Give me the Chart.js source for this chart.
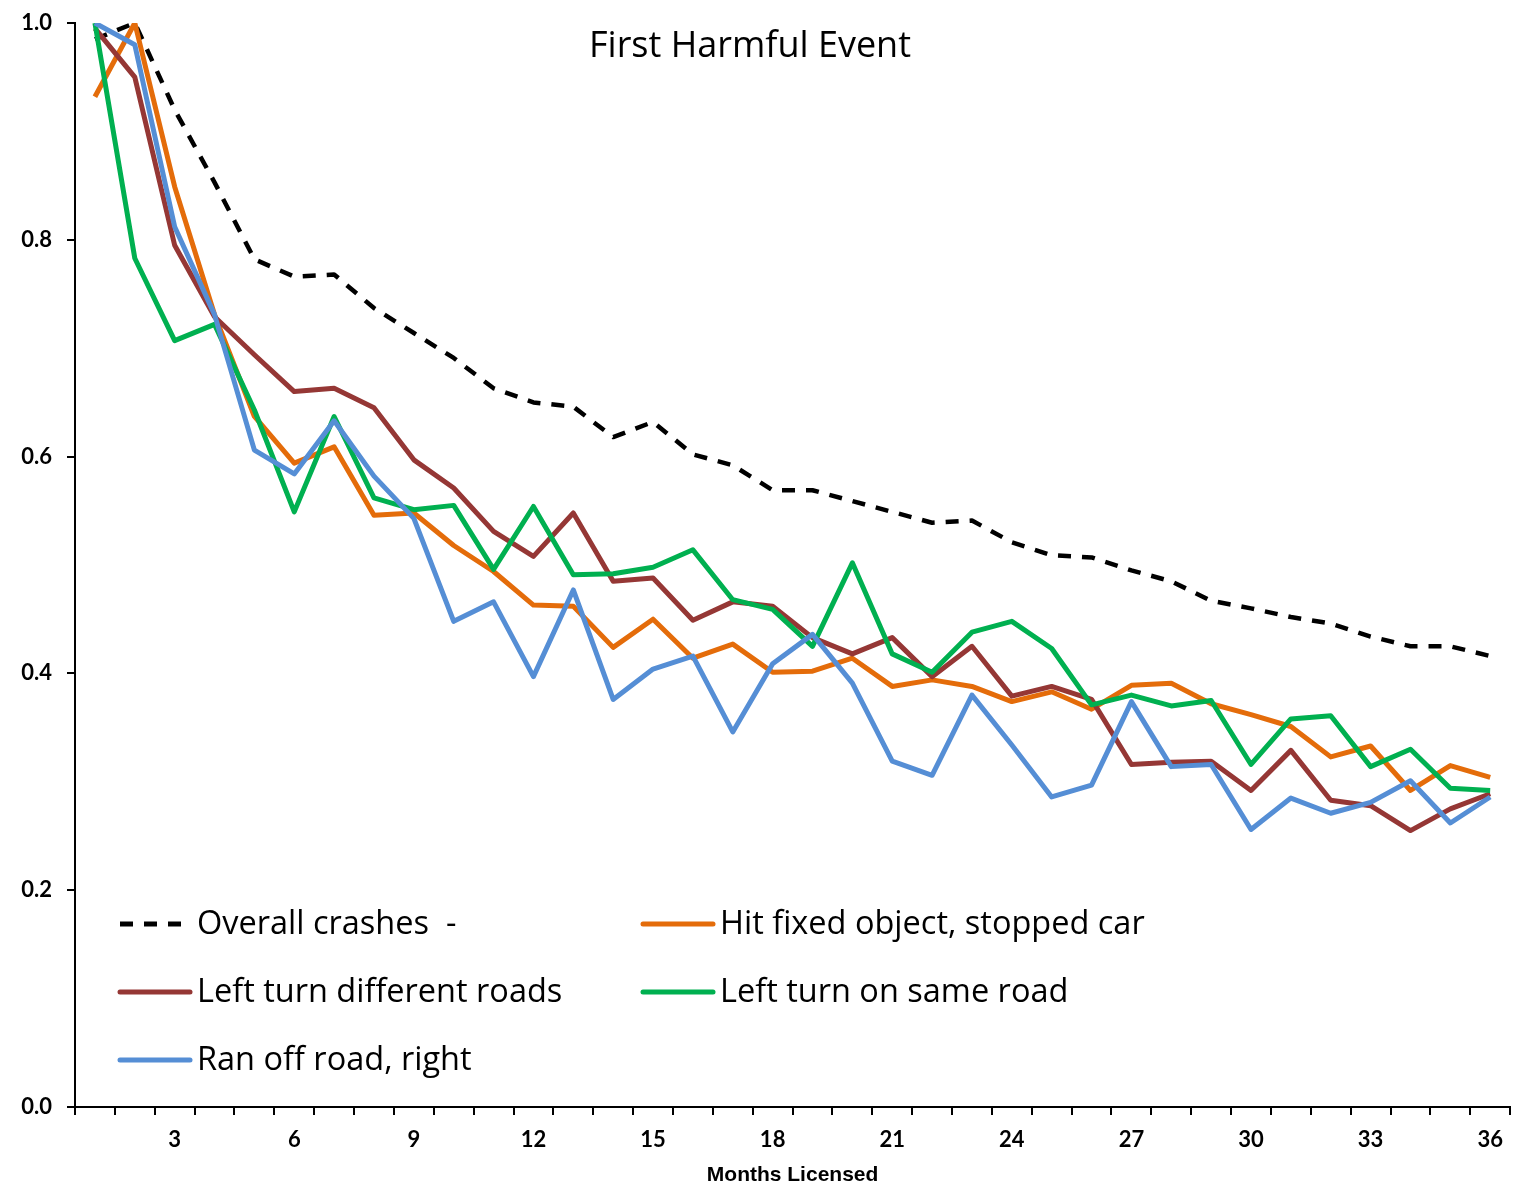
<!DOCTYPE html>
<html>
<head>
<meta charset="utf-8">
<title>First Harmful Event</title>
<script src="https://cdn.jsdelivr.net/npm/chart.js@4.4.1/dist/chart.umd.min.js"></script>
<style>
  html, body { margin: 0; padding: 0; background: #fff; }
  #wrap { width: 1515px; height: 1186px; position: relative; }
</style>
</head>
<body>
<div id="wrap"><canvas id="grafico"></canvas></div>
<script>
// Months 1..36 on the x axis, only every third one is labelled
const months = [1,2,3,4,5,6,7,8,9,10,11,12,13,14,15,16,17,18,19,20,21,22,23,24,25,26,27,28,29,30,31,32,33,34,35,36];
const monthTicks = [3,6,9,12,15,18,21,24,27,30,33,36];
const yTicks = [0, 0.2, 0.4, 0.6, 0.8, 1.0];

const overall = [0.985,1.0,0.92,0.853,0.782,0.766,0.768,0.737,0.714,0.691,0.663,0.650,0.646,0.618,0.632,0.602,0.592,0.569,0.569,0.559,0.549,0.539,0.541,0.521,0.509,0.507,0.495,0.485,0.467,0.460,0.452,0.446,0.434,0.425,0.425,0.416];
const hitFixed = [0.932,1.0,0.849,0.731,0.637,0.594,0.609,0.546,0.548,0.518,0.494,0.463,0.462,0.424,0.450,0.414,0.427,0.401,0.402,0.414,0.388,0.394,0.388,0.374,0.383,0.367,0.389,0.391,0.372,0.362,0.351,0.323,0.333,0.292,0.315,0.304];
const leftDiff = [0.995,0.95,0.795,0.729,0.694,0.660,0.663,0.645,0.597,0.571,0.531,0.508,0.548,0.485,0.488,0.449,0.466,0.462,0.433,0.418,0.433,0.397,0.425,0.379,0.388,0.376,0.316,0.318,0.319,0.292,0.329,0.283,0.278,0.255,0.275,0.289];
const leftSame = [1.0,0.783,0.707,0.722,0.643,0.549,0.637,0.562,0.551,0.555,0.496,0.554,0.491,0.492,0.498,0.514,0.468,0.459,0.425,0.502,0.418,0.401,0.438,0.448,0.423,0.371,0.380,0.370,0.375,0.316,0.358,0.361,0.314,0.330,0.294,0.292];
const ranOff = [1.0,0.98,0.812,0.731,0.606,0.584,0.633,0.582,0.543,0.448,0.466,0.397,0.477,0.376,0.404,0.416,0.346,0.409,0.436,0.391,0.319,0.306,0.380,0.334,0.286,0.297,0.374,0.314,0.316,0.256,0.285,0.271,0.281,0.301,0.262,0.286];

const tickFont = { family: 'Lato', weight: 'bold', size: 22 };

// Title and legend sit inside the plot area, so they are drawn by hand
const insidePlugin = {
  id: 'inside',
  afterDraw(chart) {
    const ctx = chart.ctx;
    const area = chart.chartArea;
    ctx.save();
    ctx.fillStyle = '#000';
    ctx.textBaseline = 'middle';
    ctx.textAlign = 'center';
    ctx.font = '36px "Open Sans"';
    ctx.fillText('First Harmful Event', area.left + 675, area.top + 24);

    const cols = [area.left + 45, area.left + 568];
    const rows = [area.bottom - 183, area.bottom - 115, area.bottom - 47];
    ctx.font = '32.5px "Open Sans"';
    ctx.textAlign = 'left';
    chart.data.datasets.forEach((ds, i) => {
      const x = cols[i % 2];
      const y = rows[Math.floor(i / 2)];
      ctx.beginPath();
      ctx.strokeStyle = ds.borderColor;
      ctx.lineWidth = 5;
      ctx.lineCap = ds.borderDash ? 'butt' : 'round';
      ctx.setLineDash(ds.borderDash || []);
      ctx.moveTo(x, y);
      ctx.lineTo(x + 70, y);
      ctx.stroke();
      ctx.setLineDash([]);
      ctx.fillStyle = '#000';
      ctx.fillText(ds.label, x + 77, y + 1);
    });
    ctx.restore();
  }
};

const data = {
  labels: months,
  datasets: [
    { label: 'Overall crashes  -', data: overall, borderColor: '#000000', borderDash: [13, 11], borderWidth: 4.5, order: 5 },
    { label: 'Hit fixed object, stopped car', data: hitFixed, borderColor: '#E46C0A', order: 4 },
    { label: 'Left turn different roads', data: leftDiff, borderColor: '#953735', order: 3 },
    { label: 'Left turn on same road', data: leftSame, borderColor: '#00B050', order: 2 },
    { label: 'Ran off road, right', data: ranOff, borderColor: '#558ED5', order: 1 }
  ]
};

const config = {
  type: 'line',
  data: data,
  options: {
    responsive: true,
    maintainAspectRatio: false,
    animation: false,
    layout: { padding: { top: 23, right: 3, left: 0, bottom: 0 } },
    elements: {
      line: { borderWidth: 5, tension: 0, borderJoinStyle: 'round' },
      point: { radius: 0 }
    },
    plugins: {
      legend: { display: false },
      title: { display: false },
      tooltip: { enabled: false }
    },
    scales: {
      x: {
        type: 'category',
        offset: true,
        grid: { offset: true, drawOnChartArea: false, tickLength: 8, color: '#000', lineWidth: 2 },
        border: { color: '#000', width: 2 },
        ticks: {
          autoSkip: false,
          maxRotation: 0,
          padding: 12,
          color: '#000',
          font: tickFont,
          callback: function(val, i) {
            const m = months[i];
            return monthTicks.includes(m) ? String(m) : '';
          }
        },
        title: {
          display: true,
          text: 'Months Licensed',
          color: '#000',
          font: { family: 'Liberation Sans', weight: 'bold', size: 21, lineHeight: 1.0 },
          padding: { top: 4, bottom: 0 }
        },
        afterFit: function(scale) { scale.height = 79; }
      },
      y: {
        min: 0,
        max: 1,
        grid: { drawOnChartArea: false, tickLength: 8, color: '#000', lineWidth: 2 },
        border: { color: '#000', width: 2 },
        afterBuildTicks: function(scale) {
          scale.ticks = yTicks.map(v => ({ value: v }));
        },
        ticks: {
          padding: 15,
          color: '#000',
          font: { family: 'Lato', weight: 'bold', size: 22, lineHeight: 0.6 },
          callback: function(val) { return Number(val).toFixed(1); }
        },
        afterFit: function(scale) { scale.width = 75; }
      }
    }
  },
  plugins: [insidePlugin]
};

const ctx = document.getElementById('grafico').getContext('2d');
const myChart = new Chart(ctx, config);
</script>
</body>
</html>
